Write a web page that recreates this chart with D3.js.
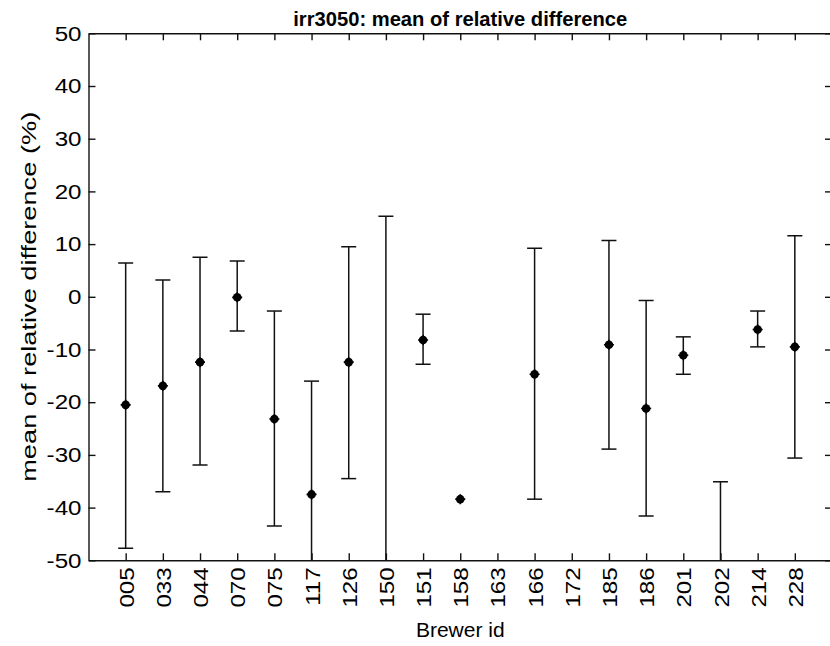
<!DOCTYPE html>
<html><head><meta charset="utf-8">
<script src="https://cdn.jsdelivr.net/npm/d3@7"></script>
<style>
html,body{margin:0;padding:0;background:#fff;}
svg{display:block;}
text{font-family:"Liberation Sans",Arial,Helvetica,sans-serif;fill:#000;}
</style></head>
<body>
<svg id="chart" width="830" height="646"></svg>
<script>
const title = "irr3050: mean of relative difference";
const xLabel = "Brewer id";
const yLabel = "mean of relative difference (%)";
const categories = ["005","033","044","070","075","117","126","150","151","158","163","166","172","185","186","201","202","214","228"];
// mean value and error-bar ends (null = no data)
const means = [-20.5,-16.9,-12.4,-0.1,-23.2,-37.5,-12.4,-75,-8.2,-38.4,null,-14.7,null,-9.1,-21.2,-11.1,-85,-6.2,-9.5];
const upper = [6.4,3.2,7.5,6.8,-2.7,-16.0,9.5,15.3,-3.3,-38.4,null,9.2,null,10.7,-0.7,-7.6,-35.1,-2.7,11.6];
const lower = [-47.7,-37.0,-31.9,-6.5,-43.5,-59.0,-34.5,-165,-12.8,-38.4,null,-38.4,null,-28.9,-41.6,-14.7,-135,-9.5,-30.6];
const yTicks = [-50,-40,-30,-20,-10,0,10,20,30,40,50];

const svg = d3.select("#chart");
const m = {left:88.5, right:832, top:33.3, bottom:560.3};
const x = d3.scaleLinear().domain([0, categories.length+1]).range([m.left, m.right]);
const y = d3.scaleLinear().domain([-50, 50]).range([m.bottom, m.top]);
const pos = categories.map((c,i)=>i+1);
const sx = 1.15;

svg.append("defs").append("clipPath").attr("id","clip")
  .append("rect").attr("x",m.left).attr("y",m.top).attr("width",m.right-m.left).attr("height",m.bottom-m.top);

const tl = 7;
// bottom axis
const xb = svg.append("g").attr("transform",`translate(0,${m.bottom})`)
  .call(d3.axisBottom(x).tickValues(pos).tickFormat((d,i)=>categories[i]).tickSizeInner(-tl).tickSizeOuter(0));
xb.selectAll("text").attr("transform",`rotate(-90) translate(-7,0) scale(${sx},1)`).attr("text-anchor","end")
  .attr("x",0).attr("y",0).attr("dy","0.36em").style("font-size","21px");
// top axis
svg.append("g").attr("transform",`translate(0,${m.top})`)
  .call(d3.axisTop(x).tickValues(pos).tickFormat("").tickSizeInner(-tl).tickSizeOuter(0));
// left axis
const yl = svg.append("g").attr("transform",`translate(${m.left},0)`)
  .call(d3.axisLeft(y).tickValues(yTicks).tickFormat(d=>String(d)).tickSizeInner(-tl).tickSizeOuter(0));
yl.selectAll("text").attr("x",0).attr("transform",`translate(-7,0) scale(${sx},1)`).style("font-size","21px").attr("text-anchor","end");
// right axis
svg.append("g").attr("transform",`translate(${m.right},0)`)
  .call(d3.axisRight(y).tickValues(yTicks).tickFormat("").tickSizeInner(-tl).tickSizeOuter(0));

svg.selectAll(".domain").attr("stroke","#111").attr("stroke-width",1.4);
svg.selectAll(".tick line").attr("stroke","#111").attr("stroke-width",1.4);
svg.selectAll(".tick text").attr("fill","#111");
svg.selectAll("g").attr("font-family",null);

// error bars
const plot = svg.append("g").attr("clip-path","url(#clip)");
const data = categories.map((c,i)=>({p:pos[i], m:means[i], u:upper[i], l:lower[i]})).filter(d=>d.m!==null);
const cap = 7.5;
const eb = plot.selectAll("g.eb").data(data).join("g").attr("class","eb")
  .attr("stroke","#111").attr("stroke-width",1.5);
eb.append("line").attr("x1",d=>x(d.p)).attr("x2",d=>x(d.p)).attr("y1",d=>y(d.u)).attr("y2",d=>y(d.l));
eb.filter(d=>d.u!==d.m).append("line").attr("x1",d=>x(d.p)-cap).attr("x2",d=>x(d.p)+cap).attr("y1",d=>y(d.u)).attr("y2",d=>y(d.u));
eb.filter(d=>d.l!==d.m).append("line").attr("x1",d=>x(d.p)-cap).attr("x2",d=>x(d.p)+cap).attr("y1",d=>y(d.l)).attr("y2",d=>y(d.l));
// markers
const mk = plot.selectAll("g.mk").data(data).join("g").attr("class","mk")
  .attr("transform",d=>`translate(${x(d.p)},${y(d.m)})`);
mk.append("circle").attr("r",4.3).attr("fill","#000");
mk.append("path").attr("d","M-5,0H5M0,-5V5").attr("stroke","#000").attr("stroke-width",1.6);

// titles
svg.append("text").attr("x",(m.left+m.right)/2).attr("y",26).attr("text-anchor","middle")
  .style("font-size","21px").style("font-weight","bold").attr("textLength",334).attr("lengthAdjust","spacingAndGlyphs").text(title);
svg.append("text").attr("x",(m.left+m.right)/2).attr("y",637).attr("text-anchor","middle")
  .style("font-size","21px").text(xLabel);
svg.append("text").attr("transform",`translate(36,${(m.top+m.bottom)/2}) rotate(-90)`).attr("text-anchor","middle")
  .style("font-size","20px").attr("textLength",370).attr("lengthAdjust","spacingAndGlyphs").text(yLabel);
</script>
</body></html>
